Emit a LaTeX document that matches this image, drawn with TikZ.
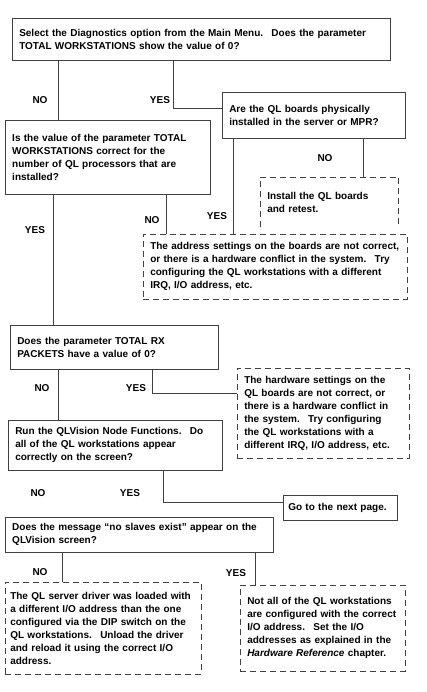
\documentclass[tikz,border=0pt]{standalone}
\usepackage{fontspec}
\setmainfont{Liberation Sans}
\begin{document}
\begin{tikzpicture}[x=1pt,y=-1pt,
    txt/.style={font=\fontsize{10}{13}\selectfont\bfseries},
    qbox/.style={txt,draw=black!75,line width=0.5pt,anchor=north west,align=left,inner xsep=7pt,inner ysep=3pt},
    abox/.style={qbox,dash pattern=on 6pt off 4pt},
    lbl/.style={txt,inner sep=1pt},
    wire/.style={draw=black!75,line width=0.5pt}]
      \useasboundingbox (0,0) rectangle (427,692);
      % questions and answers
      \node[qbox,text width=364pt,minimum height=42pt] (diag) at (12,18)
        {Select the Diagnostics option from the Main Menu.~ Does the parameter\\TOTAL WORKSTATIONS show the value of 0?};
      \node[qbox,text width=169pt,minimum height=46pt] (boards) at (222,92)
        {Are the QL boards physically\\installed in the server or MPR?};
      \node[qbox,text width=191pt,minimum height=74pt] (total) at (5,120)
        {Is the value of the parameter TOTAL\\WORKSTATIONS correct for the\\number of QL processors that are\\installed?};
      \node[qbox,draw=none,text width=124pt,minimum height=50pt] (inst) at (260,177)
        {Install the QL boards\\and retest.};
      \node[abox,text width=250pt,minimum height=65pt] (addr) at (143,234)
        {The address settings on the boards are not correct,\\or there is a hardware conflict in the system.~ Try\\configuring the QL workstations with a different\\IRQ, I/O address, etc.};
      \node[qbox,text width=194pt,minimum height=44pt] (rx) at (10,325)
        {Does the parameter TOTAL RX\\PACKETS have a value of 0?};
      \node[abox,text width=158pt,minimum height=90pt] (hw) at (237,368)
        {The hardware settings on the\\QL boards are not correct, or\\there is a hardware conflict in\\the system.~ Try configuring\\the QL workstations with a\\different IRQ, I/O address, etc.};
      \node[qbox,text width=200pt,minimum height=50pt] (run) at (8,420)
        {Run the QLVision Node Functions.~ Do\\all of the QL workstations appear\\correctly on the screen?};
      \node[qbox,inner xsep=5pt,text width=104pt,minimum height=25pt] (next) at (283,495)
        {Go to the next page.};
      \node[qbox,text width=254pt,minimum height=35pt] (msg) at (5,517)
        {Does the message ``no slaves exist'' appear on the\\QLVision screen?};
      \node[abox,inner xsep=5pt,text width=186pt,minimum height=92pt] (drv) at (5,582)
        {The QL server driver was loaded with\\a different I/O address than the one\\configured via the DIP switch on the\\QL workstations.~ Unload the driver\\and reload it using the correct I/O\\address.};
      \node[abox,text width=151pt,minimum height=86pt] (notall) at (240,585)
        {Not all of the QL workstations\\are configured with the correct\\I/O address.~ Set the I/O\\addresses as explained in the\\\textit{Hardware Reference} chapter.};
      % open dashed box
      \draw[wire,dash pattern=on 6pt off 4pt] (inst.south west) -- (inst.north west) -- (inst.north east) -- (inst.south east);
      % branch labels
      \node[lbl] (no1) at (40,100) {NO};
      \node[lbl] (yes1) at (160,100) {YES};
      \node[lbl] (no2) at (325,158) {NO};
      \node[lbl] (no3) at (152,220) {NO};
      \node[lbl] (yes3) at (217,216) {YES};
      \node[lbl] (yes2) at (35,230) {YES};
      \node[lbl] (no4) at (42,388) {NO};
      \node[lbl] (yes4) at (136,388) {YES};
      \node[lbl] (no5) at (38,493) {NO};
      \node[lbl] (yes5) at (130,493) {YES};
      \node[lbl] (no6) at (40,572) {NO};
      \node[lbl] (yes6) at (236,573) {YES};
      % where the lines run
      \coordinate (c1) at (58,0);
      \coordinate (b1) at (173,108);
      \coordinate (c3) at (363,0);
      \coordinate (c4) at (233,0);
      \coordinate (c5) at (166,0);
      \coordinate (c6) at (53,0);
      \coordinate (c7) at (58,0);
      \coordinate (b4) at (152,393);
      \coordinate (b5) at (163,502);
      \coordinate (c8) at (62,0);
      \coordinate (c9) at (255,0);
      % connectors
      \draw[wire] (diag.south -| c1) -- (total.north -| c1);
      \draw[wire] (diag.south -| b1) -- (b1) -- (b1 -| boards.west);
      \draw[wire] (boards.south -| c3) -- (inst.north -| c3);
      \draw[wire] (boards.south -| c4) -- (addr.north -| c4);
      \draw[wire] (total.south -| c5) -- (addr.north -| c5);
      \draw[wire] (total.south -| c6) -- (rx.north -| c6);
      \draw[wire] (rx.south -| c7) -- (run.north -| c7);
      \draw[wire] (rx.south -| b4) -- (b4) -- (b4 -| hw.west);
      \draw[wire] (run.south -| b5) -- (b5) -- (b5 -| next.west);
      \draw[wire] (msg.south -| c8) -- (drv.north -| c8);
      \draw[wire] (msg.south -| c9) -- (notall.north -| c9);
    \end{tikzpicture}
\end{document}
